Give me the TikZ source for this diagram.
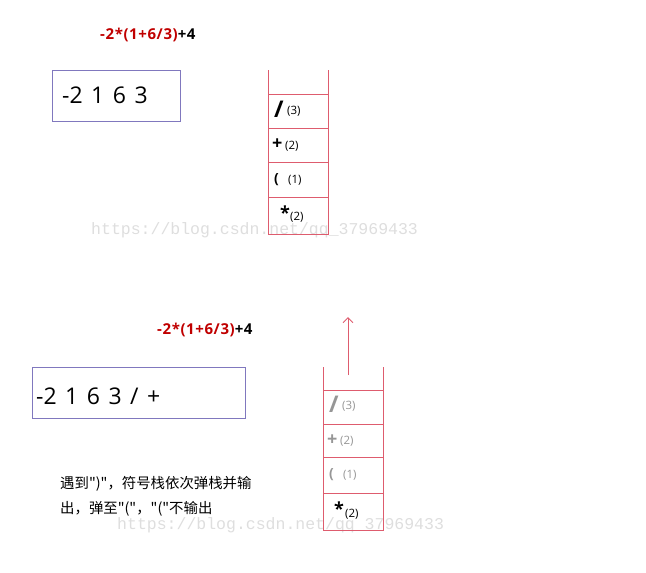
\documentclass[tikz,border=0pt]{standalone}
\usepackage{fontspec}
\setmainfont{Open Sans}
\newfontfamily\cjkfont{Noto Sans CJK SC}[Ligatures=TeXOff]
\newfontfamily\wmfont{Liberation Mono}
\usetikzlibrary{arrows.meta}
\definecolor{stackred}{RGB}{222,92,110}
\definecolor{boxpurple}{RGB}{128,120,190}
\definecolor{formred}{RGB}{192,0,0}
\definecolor{wmgray}{RGB}{222,222,222}
\definecolor{fadegray}{RGB}{150,150,150}
\newcommand{\gp}{\hspace{8.5pt}}
\tikzset{
  exprbox/.style={draw=boxpurple, line width=0.8pt},
  stackline/.style={draw=stackred, line width=1pt},
  formula/.style={font=\fontsize{15}{17}\selectfont\bfseries\addfontfeatures{LetterSpace=4}, inner sep=0pt},
  postfix/.style={font=\fontsize{23}{26}\selectfont, inner sep=0pt, anchor=west},
  opsym/.style={font=\fontsize{18}{20}\selectfont\bfseries, inner sep=0pt, anchor=west},
  slashsym/.style={font=\fontsize{23}{25}\selectfont\bfseries, inner sep=0pt, anchor=west},
  prio/.style={font=\fontsize{11.5}{13}\selectfont, inner sep=0pt, anchor=west},
  note/.style={font=\cjkfont\fontsize{14.4}{16}\selectfont, inner sep=0pt, anchor=west},
  wmark/.style={font=\wmfont\fontsize{16.5}{18}\selectfont, text=wmgray, inner sep=0pt, anchor=west}
}
\begin{document}
\begin{tikzpicture}[x=1pt,y=-1pt]
\useasboundingbox (0,0) rectangle (646,573);
% watermarks
\node[wmark] (wm1) at (91,230) {https://blog.csdn.net/qq\_37969433};
\node[wmark] (wm2) at (117,525) {https://blog.csdn.net/qq\_37969433};

% ---------- top part ----------
\node[formula, anchor=west] (f1) at (100,35) {\textcolor{formred}{-2*(1+6/3)}+4};
\draw[exprbox] (52,70) rectangle (180,121);
\node[postfix] (p1) at (62,95) {-2\gp 1\gp 6\gp 3};

% stack 1
\draw[stackline] (268,70) -- (268,234) -- (328,234) -- (328,70);
\foreach \yy in {94,128,162,197} \draw[stackline] (268,\yy) -- (328,\yy);
\node[slashsym] (s1a) at (274,109) {/};
\node[prio] (s1b) at (287,111) {(3)};
\node[opsym] (s2a) at (272,144) {+};
\node[prio] (s2b) at (285,146) {(2)};
\node[opsym, font=\fontsize{14}{16}\selectfont\bfseries] (s3a) at (274,180) {(};
\node[prio] (s3b) at (288,180) {(1)};
\node[opsym] (s4a) at (280,213) {*};
\node[prio] (s4b) at (290,217) {(2)};

% ---------- bottom part ----------
\node[formula, anchor=west] (f2) at (157,330) {\textcolor{formred}{-2*(1+6/3)}+4};
\draw[exprbox] (32,367) rectangle (245,418);
\node[postfix] (p2) at (36,396) {-2\gp 1\gp 6\gp 3\gp /\gp +};

% stack 2
\draw[stackline] (323,367) -- (323,530) -- (383,530) -- (383,367);
\foreach \yy in {390,424,457,493} \draw[stackline] (323,\yy) -- (383,\yy);
\coordinate (arrS) at (348,375);
\coordinate (arrE) at (348,317);
\draw[stackline, -{Straight Barb[length=5pt,width=10pt]}] (arrS) -- (arrE);
\node[slashsym, text=fadegray] (t1a) at (329,404) {/};
\node[prio, text=fadegray] (t1b) at (342,406) {(3)};
\node[opsym, text=fadegray] (t2a) at (327,440) {+};
\node[prio, text=fadegray] (t2b) at (340,441) {(2)};
\node[opsym, font=\fontsize{14}{16}\selectfont\bfseries, text=fadegray] (t3a) at (329,475) {(};
\node[prio, text=fadegray] (t3b) at (343,475) {(1)};
\node[opsym] (t4a) at (334,509) {*};
\node[prio] (t4b) at (345,514) {(2)};

% note
\node[note] (n1) at (60,484) {遇到")"，符号栈依次弹栈并输};
\node[note] (n2) at (60,509) {出，弹至"("，"("不输出};
\end{tikzpicture}
\end{document}
